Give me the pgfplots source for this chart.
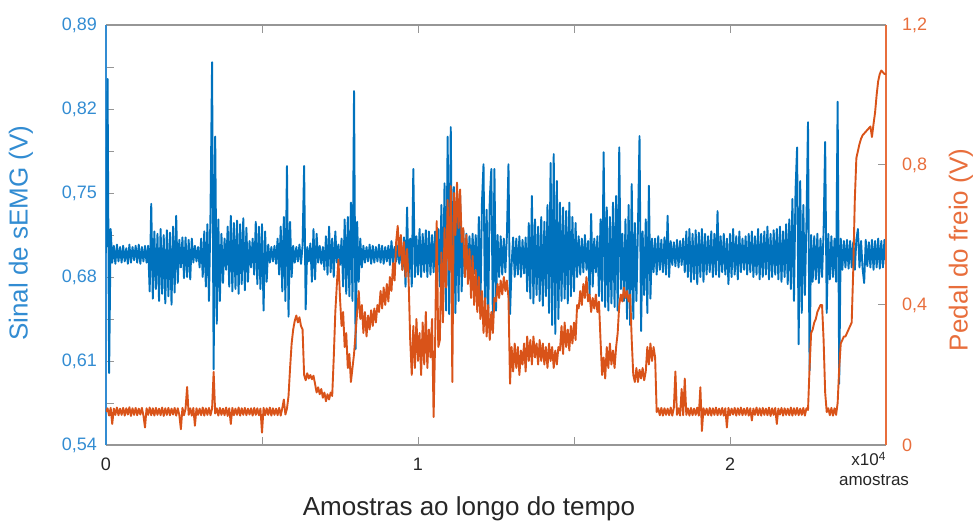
\documentclass[border=0pt]{standalone}
\usepackage{fontspec}
\setmainfont{Liberation Sans}
\usepackage{pgfplots}
\pgfplotsset{compat=1.18}
\definecolor{mblue}{RGB}{0,114,189}
\definecolor{morange}{RGB}{217,83,25}
\definecolor{lblue}{RGB}{50,140,210}
\definecolor{lorange}{RGB}{232,110,60}
\definecolor{axgray}{RGB}{150,150,150}
\begin{document}
\begin{tikzpicture}
\path[use as bounding box] (-53pt,-37.5pt) rectangle (434.5pt,222.5pt);
\begin{axis}[
  scale only axis, width=390pt, height=210pt,
  xmin=0, xmax=2.5, ymin=0.54, ymax=0.89,
  separate axis lines,
  x axis line style={draw=axgray, line width=0.6pt},
  y axis line style={draw=lblue, line width=0.8pt},
  xtick={0,1,2}, xticklabels={0,1,2},
  minor xtick={0.5,1.5},
  ytick={0.54,0.61,0.68,0.75,0.82,0.89},
  yticklabels={{0,54},{0,61},{0,68},{0,75},{0,82},{0,89}},
  minor ytick={0.575,0.645,0.715,0.785,0.855},
  xtick pos=both, xticklabel pos=left,
  ytick pos=left, yticklabel pos=left,
  tick align=inside,
  major tick length=4pt, minor tick length=4pt,
  tick style={axgray, line width=0.5pt},
  xticklabel style={font=\fontsize{9}{10}\selectfont, text=black!85, yshift=-3pt},
  yticklabel style={font=\fontsize{9}{10}\selectfont, text=lblue, xshift=-1pt},
]
\addplot[mblue, line width=0.95pt, line join=round] table[header=false, row sep=\\, x expr=\coordindex*0.005, y index=0] {
0.700\\0.845\\0.600\\0.720\\0.692\\0.706\\0.691\\0.707\\0.693\\0.705\\
0.692\\0.706\\0.693\\0.704\\0.691\\0.707\\0.692\\0.705\\0.694\\0.706\\
0.692\\0.707\\0.691\\0.705\\0.693\\0.706\\0.692\\0.706\\0.668\\0.741\\
0.662\\0.718\\0.670\\0.716\\0.660\\0.720\\0.666\\0.715\\0.658\\0.719\\
0.664\\0.717\\0.657\\0.722\\0.667\\0.731\\0.675\\0.711\\0.688\\0.713\\
0.679\\0.713\\0.680\\0.711\\0.678\\0.712\\0.692\\0.706\\0.693\\0.705\\
0.688\\0.712\\0.680\\0.718\\0.672\\0.724\\0.660\\0.735\\0.859\\0.603\\
0.797\\0.641\\0.728\\0.660\\0.716\\0.675\\0.712\\0.686\\0.722\\0.672\\
0.731\\0.668\\0.725\\0.670\\0.727\\0.666\\0.724\\0.674\\0.729\\0.669\\
0.721\\0.676\\0.710\\0.688\\0.712\\0.682\\0.726\\0.674\\0.722\\0.670\\
0.724\\0.652\\0.718\\0.676\\0.707\\0.692\\0.705\\0.693\\0.706\\0.691\\
0.712\\0.682\\0.722\\0.668\\0.730\\0.660\\0.7725\\0.647\\0.726\\0.680\\
0.706\\0.692\\0.705\\0.693\\0.707\\0.691\\0.706\\0.7725\\0.653\\0.705\\
0.693\\0.708\\0.676\\0.720\\0.678\\0.716\\0.692\\0.706\\0.691\\0.705\\
0.686\\0.714\\0.682\\0.722\\0.684\\0.712\\0.680\\0.718\\0.692\\0.707\\
0.690\\0.712\\0.672\\0.728\\0.666\\0.730\\0.664\\0.742\\0.660\\0.835\\
0.620\\0.726\\0.676\\0.712\\0.688\\0.706\\0.692\\0.705\\0.693\\0.707\\
0.691\\0.706\\0.692\\0.705\\0.693\\0.707\\0.692\\0.706\\0.691\\0.705\\
0.693\\0.706\\0.690\\0.710\\0.692\\0.705\\0.693\\0.706\\0.691\\0.707\\
0.686\\0.713\\0.672\\0.738\\0.680\\0.712\\0.672\\0.770\\0.680\\0.714\\
0.682\\0.720\\0.680\\0.716\\0.684\\0.719\\0.680\\0.718\\0.682\\0.715\\
0.684\\0.718\\0.682\\0.720\\0.672\\0.740\\0.660\\0.758\\0.652\\0.797\\
0.649\\0.805\\0.655\\0.755\\0.650\\0.750\\0.660\\0.748\\0.668\\0.720\\
0.680\\0.716\\0.682\\0.714\\0.680\\0.716\\0.683\\0.715\\0.670\\0.730\\
0.652\\0.742\\0.774\\0.645\\0.736\\0.648\\0.745\\0.770\\0.642\\0.770\\
0.652\\0.715\\0.680\\0.714\\0.682\\0.712\\0.684\\0.715\\0.774\\0.649\\
0.690\\0.713\\0.680\\0.712\\0.682\\0.714\\0.680\\0.711\\0.683\\0.713\\
0.668\\0.725\\0.662\\0.7475\\0.658\\0.728\\0.665\\0.722\\0.660\\0.730\\
0.656\\0.726\\0.664\\0.740\\0.650\\0.775\\0.640\\0.7825\\0.6325\\0.760\\
0.645\\0.742\\0.660\\0.738\\0.662\\0.735\\0.658\\0.742\\0.664\\0.730\\
0.668\\0.725\\0.680\\0.714\\0.682\\0.712\\0.684\\0.715\\0.686\\0.710\\
0.665\\0.7325\\0.672\\0.712\\0.684\\0.714\\0.664\\0.728\\0.660\\0.784\\
0.655\\0.738\\0.652\\0.730\\0.658\\0.742\\0.655\\0.7475\\0.652\\0.788\\
0.670\\0.716\\0.660\\0.728\\0.645\\0.740\\0.640\\0.7575\\0.645\\0.725\\
0.660\\0.722\\0.7975\\0.635\\0.718\\0.665\\0.728\\0.650\\0.756\\0.662\\
0.712\\0.684\\0.712\\0.682\\0.714\\0.686\\0.711\\0.684\\0.713\\0.682\\
0.731\\0.680\\0.710\\0.690\\0.709\\0.689\\0.711\\0.688\\0.710\\0.690\\
0.712\\0.684\\0.718\\0.680\\0.720\\0.676\\0.716\\0.678\\0.719\\0.674\\
0.717\\0.680\\0.720\\0.676\\0.716\\0.682\\0.714\\0.684\\0.718\\0.680\\
0.716\\0.682\\0.735\\0.680\\0.714\\0.684\\0.716\\0.682\\0.712\\0.674\\
0.716\\0.680\\0.720\\0.682\\0.714\\0.678\\0.718\\0.684\\0.712\\0.686\\
0.714\\0.682\\0.716\\0.684\\0.718\\0.680\\0.714\\0.682\\0.720\\0.678\\
0.716\\0.680\\0.718\\0.682\\0.722\\0.678\\0.716\\0.680\\0.719\\0.682\\
0.720\\0.678\\0.722\\0.676\\0.718\\0.680\\0.724\\0.674\\0.728\\0.670\\
0.745\\0.660\\0.752\\0.788\\0.624\\0.760\\0.650\\0.740\\0.665\\0.725\\
0.809\\0.602\\0.715\\0.676\\0.714\\0.678\\0.716\\0.675\\0.712\\0.680\\
0.718\\0.7925\\0.650\\0.716\\0.678\\0.714\\0.680\\0.712\\0.676\\0.826\\
0.591\\0.712\\0.686\\0.710\\0.688\\0.711\\0.687\\0.710\\0.688\\0.709\\
0.686\\0.711\\0.720\\0.688\\0.710\\0.687\\0.675\\0.711\\0.689\\0.709\\
0.688\\0.711\\0.686\\0.710\\0.688\\0.712\\0.687\\0.710\\0.688\\0.711\\
0.690\\
};
\end{axis}
\begin{axis}[
  scale only axis, width=390pt, height=210pt,
  xmin=0, xmax=2.5, ymin=0, ymax=1.2,
  axis x line=none, axis y line*=right,
  y axis line style={draw=lorange, line width=0.8pt},
  ytick={0,0.4,0.8,1.2}, yticklabels={0,{0,4},{0,8},{1,2}},
  tick align=inside, major tick length=4pt,
  tick style={axgray, line width=0.5pt},
  yticklabel style={font=\fontsize{9}{10}\selectfont, text=lorange, xshift=4.5pt},
]
\addplot[morange, line width=0.95pt, line join=round] table[header=false, row sep=\\, x expr=\coordindex*0.005, y index=0] {
0.095\\0.105\\0.084\\0.106\\0.060\\0.104\\0.086\\0.107\\0.085\\0.104\\
0.086\\0.106\\0.084\\0.105\\0.087\\0.108\\0.083\\0.105\\0.086\\0.106\\
0.085\\0.104\\0.087\\0.106\\0.084\\0.050\\0.105\\0.086\\0.107\\0.085\\
0.105\\0.084\\0.106\\0.086\\0.104\\0.085\\0.107\\0.083\\0.105\\0.086\\
0.106\\0.085\\0.104\\0.087\\0.106\\0.084\\0.105\\0.086\\0.045\\0.106\\
0.085\\0.104\\0.166\\0.086\\0.105\\0.084\\0.106\\0.055\\0.105\\0.086\\
0.104\\0.085\\0.107\\0.084\\0.105\\0.086\\0.106\\0.085\\0.104\\0.209\\
0.090\\0.105\\0.084\\0.106\\0.086\\0.104\\0.085\\0.107\\0.083\\0.105\\
0.060\\0.106\\0.085\\0.104\\0.086\\0.107\\0.084\\0.105\\0.086\\0.106\\
0.085\\0.104\\0.087\\0.105\\0.084\\0.106\\0.086\\0.105\\0.085\\0.104\\
0.035\\0.106\\0.085\\0.105\\0.086\\0.107\\0.084\\0.105\\0.086\\0.104\\
0.085\\0.106\\0.084\\0.105\\0.130\\0.087\\0.104\\0.140\\0.220\\0.290\\
0.330\\0.355\\0.370\\0.350\\0.365\\0.340\\0.330\\0.200\\0.185\\0.205\\
0.190\\0.200\\0.188\\0.198\\0.175\\0.150\\0.165\\0.145\\0.160\\0.135\\
0.150\\0.125\\0.145\\0.130\\0.150\\0.140\\0.250\\0.380\\0.460\\0.530\\
0.420\\0.340\\0.380\\0.280\\0.320\\0.220\\0.260\\0.180\\0.220\\0.260\\
0.320\\0.380\\0.440\\0.360\\0.400\\0.320\\0.380\\0.310\\0.370\\0.330\\
0.385\\0.340\\0.390\\0.350\\0.400\\0.380\\0.440\\0.390\\0.450\\0.400\\
0.460\\0.410\\0.480\\0.440\\0.520\\0.470\\0.580\\0.626\\0.540\\0.600\\
0.500\\0.580\\0.480\\0.560\\0.470\\0.300\\0.200\\0.340\\0.220\\0.360\\
0.240\\0.320\\0.200\\0.350\\0.230\\0.380\\0.220\\0.330\\0.250\\0.360\\
0.080\\0.300\\0.640\\0.280\\0.300\\0.550\\0.350\\0.620\\0.450\\0.700\\
0.500\\0.740\\0.180\\0.720\\0.600\\0.750\\0.620\\0.730\\0.580\\0.620\\
0.480\\0.600\\0.460\\0.560\\0.420\\0.540\\0.400\\0.500\\0.380\\0.480\\
0.360\\0.440\\0.320\\0.420\\0.310\\0.400\\0.300\\0.380\\0.320\\0.420\\
0.410\\0.460\\0.420\\0.470\\0.430\\0.480\\0.440\\0.470\\0.420\\0.175\\
0.280\\0.210\\0.290\\0.220\\0.280\\0.200\\0.270\\0.230\\0.290\\0.210\\
0.310\\0.240\\0.300\\0.230\\0.310\\0.250\\0.290\\0.230\\0.300\\0.240\\
0.290\\0.230\\0.280\\0.220\\0.290\\0.240\\0.280\\0.220\\0.270\\0.230\\
0.280\\0.270\\0.340\\0.260\\0.350\\0.280\\0.330\\0.270\\0.340\\0.290\\
0.350\\0.300\\0.400\\0.390\\0.440\\0.400\\0.460\\0.420\\0.480\\0.410\\
0.430\\0.380\\0.420\\0.390\\0.430\\0.380\\0.410\\0.300\\0.200\\0.250\\
0.190\\0.280\\0.220\\0.290\\0.230\\0.270\\0.220\\0.280\\0.320\\0.400\\
0.430\\0.410\\0.450\\0.420\\0.440\\0.410\\0.430\\0.300\\0.200\\0.180\\
0.220\\0.180\\0.215\\0.190\\0.220\\0.185\\0.210\\0.280\\0.230\\0.290\\
0.240\\0.280\\0.250\\0.094\\0.105\\0.085\\0.106\\0.084\\0.105\\0.086\\
0.104\\0.085\\0.107\\0.084\\0.106\\0.210\\0.086\\0.105\\0.084\\0.160\\
0.085\\0.190\\0.086\\0.105\\0.084\\0.106\\0.085\\0.104\\0.086\\0.107\\
0.084\\0.165\\0.040\\0.105\\0.086\\0.104\\0.085\\0.106\\0.084\\0.105\\
0.086\\0.107\\0.085\\0.104\\0.086\\0.106\\0.084\\0.105\\0.050\\0.106\\
0.085\\0.104\\0.087\\0.106\\0.084\\0.105\\0.086\\0.107\\0.085\\0.104\\
0.086\\0.106\\0.084\\0.105\\0.070\\0.104\\0.086\\0.107\\0.085\\0.105\\
0.084\\0.106\\0.086\\0.104\\0.085\\0.107\\0.083\\0.105\\0.086\\0.106\\
0.060\\0.104\\0.087\\0.106\\0.084\\0.105\\0.086\\0.104\\0.085\\0.107\\
0.084\\0.105\\0.086\\0.106\\0.085\\0.104\\0.086\\0.106\\0.084\\0.105\\
0.100\\0.220\\0.320\\0.330\\0.350\\0.360\\0.380\\0.390\\0.400\\0.400\\
0.300\\0.150\\0.094\\0.105\\0.085\\0.106\\0.084\\0.105\\0.086\\0.120\\
0.220\\0.290\\0.300\\0.310\\0.310\\0.320\\0.330\\0.340\\0.350\\0.500\\
0.700\\0.820\\0.840\\0.860\\0.875\\0.885\\0.890\\0.895\\0.900\\0.905\\
0.910\\0.880\\0.917\\0.950\\1.000\\1.040\\1.060\\1.070\\1.065\\1.060\\
1.060\\
};
\end{axis}
\node[font=\fontsize{13}{15}\selectfont, text=black!85, anchor=base] at (181.5pt,-35pt) {Amostras ao longo do tempo};
\node[font=\fontsize{13}{15}\selectfont, text=lblue, rotate=90] at (-42.5pt,106pt) {Sinal de sEMG (V)};
\node[font=\fontsize{13}{15}\selectfont, text=lorange, rotate=90] at (427.5pt,97.5pt) {Pedal do freio (V)};
\node[font=\fontsize{8.5}{10}\selectfont, text=black!85] at (381.5pt,-7pt) {x10\textsuperscript{4}};
\node[font=\fontsize{8.5}{10}\selectfont, text=black!85] at (384pt,-17.5pt) {amostras};
\end{tikzpicture}
\end{document}
